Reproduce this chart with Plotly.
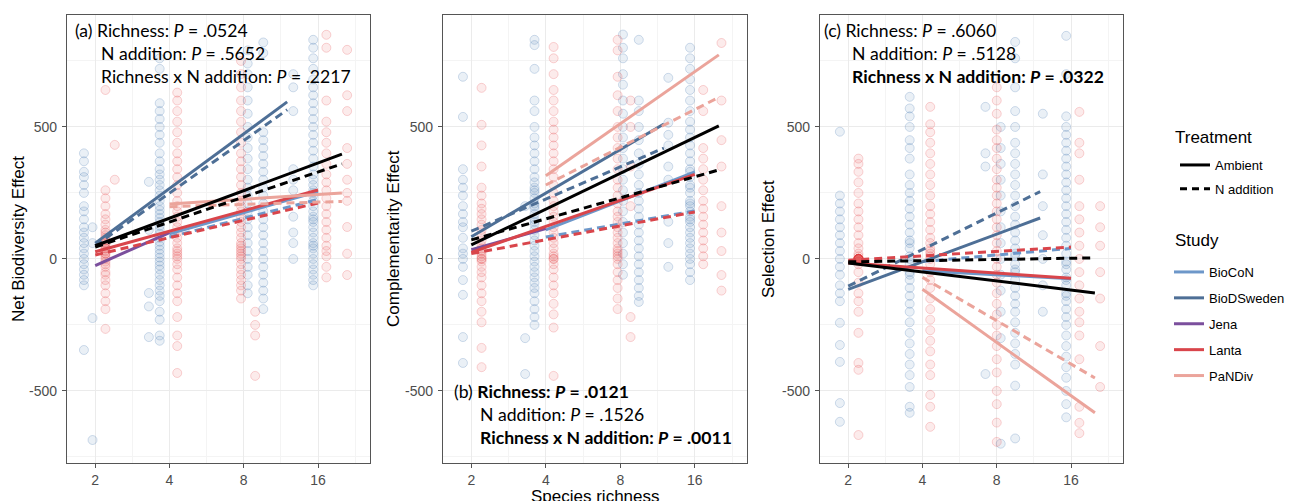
import plotly.graph_objects as go

# ---------------- data ----------------
STUDIES = ["BioCoN", "BioDSweden", "Jena", "Lanta", "PaNDiv"]
STUDY_COLORS = ["#6d97c9", "#4e6f96", "#7b4f9d", "#d9454b", "#eba49b"]
TREATMENTS = ["Ambient", "N addition"]
X_TICKS = [2, 4, 8, 16]
X_TICK_TEXT = ["2", "4", "8", "16"]
X_MINOR = [1.414, 2.828, 5.657, 11.31, 22.63]
Y_TICKS = [-500, 0, 500]
Y_TICK_TEXT = ["-500", "0", "500"]
Y_MINOR = [-750, -250, 250, 750]
Y_LABELS = ["Net Biodiversity Effect", "Complementarity Effect", "Selection Effect"]
X_LABEL = "Species richness"

# --- panel (a) Net biodiversity effect: observations ---
NBE_BLUE_X = [1.8, 1.95, 3.3, 3.65, 8.3, 9.6, 12.7, 15.3]
NBE_BLUE_Y = [
    [400, 370, 330, 310, 280, 250, 200, 180, 150, 120, 100, 80, 60, 40, 20, 0, -20, -40, -60, -80, -100, -345],
    [-224, -686, 120, 60],
    [292, 110, -129, -180, -296],
    [760, 720, 590, 560, 530, 500, 470, 440, 400, 370, 340, 320, 300, 280, 260, 240, 220, 200, 185, 170, 155,
     140, 125, 110, 95, 80, 65, 50, 35, 20, 5, -10, -25, -40, -60, -80, -100, -120, -140, -160, -200, -230,
     -290, -310],
    [790, 740, 700, 650, 600, 550, 500, 460, 420, 380, 340, 300, 270, 240, 210, 180, 150, 120, 90, 60, 30, 0,
     -30, -60, -100, -130],
    [820, 780, 480, 450, 420, 390, 360, 330, 300, 270, 240, 210, 180, 150, 120, 90, 60, 30, 0, -30, -60, -90,
     -120, -150, -190],
    [700, 650, 560, 340, 300, 260, 160, 100, 60, 0],
    [830, 800, 760, 720, 680, 650, 620, 590, 560, 530, 500, 470, 440, 410, 380, 350, 320, 300, 280, 260, 240,
     220, 200, 180, 160, 140, 120, 100, 80, 60, 40, 20, 0, -20, -40, -60, -80, -100, 250, 150, 50],
]
NBE_RED_X = [2.2, 2.4, 4.3, 7.8, 8.9, 17.3, 21.0]
NBE_RED_Y = [
    [640, 260, 230, 200, 170, 150, 130, 110, 100, 90, 80, 70, 60, 50, 40, 30, 20, 10, 0, -10, -20, -30, -50,
     -60, -80, -100, -130, -160, -190, -265, 60, 40, 20],
    [432, 300],
    [630, 600, 560, 520, 480, 440, 400, 370, 340, 310, 280, 250, 220, 200, 180, 160, 140, 120, 100, 80, 60, 40,
     20, 0, -20, -40, -70, -100, -130, -160, -220, -290, -330, -432, 30, 10],
    [750, 700, 650, 600, 560, 520, 480, 440, 400, 370, 340, 310, 280, 250, 220, 200, 180, 160, 140, 120, 100, 80,
     60, 40, 20, 0, -20, -40, -60, -80, -100, -120, -150, 50, 30, 10],
    [-200, -250, -290, -443],
    [849, 800, 600, 520, 480, 440, 400, 360, 320, 290, 260, 230, 200, 170, 140, 110, 80, 50, 30, 10, -30, -70],
    [792, 620, 560, 420, 360, 300, 250, 220, 121, 20, -61],
]

# --- panel (b) Complementarity effect: observations ---
CE_BLUE_X = [1.85, 3.3, 3.6, 8.2, 9.5, 12.5, 15.3]
CE_BLUE_Y = [
    [690, 538, 340, 300, 270, 240, 200, 170, 140, 120, 80, 40, 20, 0, -30, -80, -136, -296, -394],
    [-300, -436, 200],
    [830, 810, 720, 600, 560, 500, 460, 430, 400, 370, 340, 310, 290, 270, 250, 230, 210, 190, 170, 150, 130,
     110, 90, 70, 50, 30, 10, -10, -30, -50, -70, -90, -110, -130, -160, -190, -220, -250, 260, 200, 140],
    [850, 800, 760, 700, 660, 600, 550, 500, 460, 420, 380, 340, 300, 260, 220, 180, 140, 100, 60, 20, -20, -60],
    [830, 600, 560, 500, 450, 400, 360, 320, 280, 250, 220, 190, 160, 130, 100, 70, 40, 10, -20, -50, -80, -110,
     -140, -163],
    [686, 516, 470, 430, 350, 300, 141, 60, -30],
    [800, 760, 720, 680, 640, 600, 560, 520, 490, 460, 430, 400, 370, 340, 310, 280, 250, 220, 200, 180, 160, 140,
     120, 100, 80, 60, 40, 20, 0, -20, -50, -80, 330, 270, 210, 150],
]
CE_RED_X = [2.2, 4.3, 7.8, 8.8, 17.3, 20.5]
CE_RED_Y = [
    [648, 508, 430, 350, 270, 240, 210, 190, 170, 150, 130, 110, 90, 70, 50, 30, 20, 10, 0, -10, -30, -50, -70,
     -100, -130, -160, -200, -240, -337, -410, 40, 0],
    [803, 760, 700, 640, 600, 560, 520, 490, 460, 430, 400, 370, 340, 310, 280, 250, 220, 200, 180, 160, 140, 120,
     100, 80, 60, 40, 20, 0, -20, -40, -70, -100, -130, -170, -210, -260, -443, 0, 10],
    [830, 790, 690, 620, 560, 500, 460, 420, 380, 340, 300, 270, 240, 210, 180, 160, 140, 120, 100, 80, 60, 40,
     20, 0, -20, -50, -80, -110, -150, -190, 30, 10],
    [600, 500, 350, 200, -220, -296],
    [640, 560, 420, 380, 340, 300, 260, 220, 190, 160, 130, 100, 70, 40, 10, -20],
    [818, 600, 450, 350, 200, 100, 30, -61, -120],
]

# --- panel (c) Selection effect: observations ---
SE_BLUE_X = [1.85, 3.55, 7.2, 8.3, 9.5, 12.3, 15.3]
SE_BLUE_Y = [
    [482, 240, 210, 180, 150, 120, 90, 60, 30, 0, -30, -60, -100, -130, -160, -242, -326, -390, -546, -617],
    [614, 570, 540, 500, 450, 420, 380, 320, 280, 250, 220, 190, 160, 130, 100, 70, 40, 10, -20, -50, -80, -110,
     -140, -170, -200, -240, -280, -320, -360, -400, -440, -485, -560, -583, 60, 0, -60],
    [576, 400, 350, -436],
    [500, 420, 360, 300, 240, 180, 120, 60, 0, -60, -120, -200, -300, -700],
    [822, 760, 650, 560, 500, 440, 400, 360, 320, 280, 240, 200, 160, 130, 100, 70, 40, 10, -20, -50, -80, -110,
     -140, -170, -200, -240, -280, -320, -360, -400, -480, -680, 20, -40],
    [550, 320, 200, 90, 0, -100, -200],
    [845, 700, 540, 500, 470, 440, 410, 380, 350, 320, 290, 260, 230, 200, 170, 140, 110, 80, 50, 20, -10, -40,
     -70, -100, -130, -160, -190, -220, -250, -290, -330, -370, -410, -450, -500, -550, -600, -20, -80, -140],
]
SE_RED_X = [2.2, 4.3, 8.0, 17.3, 21.0]
SE_RED_Y = [
    [380, 360, 330, 290, 250, 210, 180, 150, 120, 90, 60, 40, 20, 10, 0, 0, 0, 0, 0, 0, 0, 0, 0, 0, 0, 0,
     -10, -20, -50, -90, -130, -160, -200, -280, -394, -420, -667],
    [576, 510, 480, 440, 400, 360, 320, 280, 240, 200, 170, 140, 110, 80, 60, 40, 20, 0, -20, -50, -80, -110,
     -150, -190, -230, -270, -310, -350, -400, -440, -515, -560, -636, 30, 10],
    [650, 600, 550, 490, 450, 420, 380, 340, 300, 270, 240, 210, 180, 150, 120, 90, 60, 30, 0, -30, -60, -90,
     -130, -170, -210, -250, -290, -330, -380, -430, -500, -550, -620, -693],
    [557, 440, 400, 300, 200, 150, 100, 50, 0, -50, -100, -150, -200, -240, -290, -380, -560, -621, -660],
    [200, 120, 50, -50, -150, -330, -485],
]

# --- fitted lines: (study, treatment, x_start, x_end, y_start, y_end) ---
NBE_FITS = [
    ("BioCoN", "Ambient", 4, 16, 95, 255), ("BioCoN", "N addition", 4, 16, 83, 225),
    ("BioDSweden", "Ambient", 2, 12, 60, 595), ("BioDSweden", "N addition", 2, 12, 50, 565),
    ("Jena", "Ambient", 2, 4, -25, 100),
    ("Lanta", "Ambient", 2, 16, 27, 261), ("Lanta", "N addition", 2, 16, 15, 212),
    ("PaNDiv", "Ambient", 4, 20, 208, 250), ("PaNDiv", "N addition", 4, 20, 198, 218),
    ("Overall", "Ambient", 2, 20, 50, 397), ("Overall", "N addition", 2, 20, 45, 360),
]
CE_FITS = [
    ("BioCoN", "Ambient", 4, 16, 110, 330), ("BioCoN", "N addition", 4, 16, 83, 182),
    ("BioDSweden", "Ambient", 2, 12, 84, 511), ("BioDSweden", "N addition", 2, 12, 105, 420),
    ("Jena", "Ambient", 2, 4, 35, 115),
    ("Lanta", "Ambient", 2, 16, 25, 320), ("Lanta", "N addition", 2, 16, 20, 178),
    ("PaNDiv", "Ambient", 4, 20, 315, 773), ("PaNDiv", "N addition", 4, 20, 280, 612),
    ("Overall", "Ambient", 2, 20, 53, 504), ("Overall", "N addition", 2, 20, 72, 337),
]
SE_FITS = [
    ("BioCoN", "Ambient", 4, 16, -45, -75), ("BioCoN", "N addition", 4, 16, -10, 40),
    ("BioDSweden", "Ambient", 2, 12, -115, 155), ("BioDSweden", "N addition", 2, 12, -103, 255),
    ("Lanta", "Ambient", 2, 16, -15, -73), ("Lanta", "N addition", 2, 16, -5, 45),
    ("PaNDiv", "Ambient", 4, 20, -115, -583), ("PaNDiv", "N addition", 4, 20, -70, -451),
    ("Overall", "Ambient", 2, 20, -15, -129), ("Overall", "N addition", 2, 20, -11, 4),
]

NBE_STATS = ["(a) Richness: <i>P</i> = .0524", "N addition: <i>P</i> = .5652",
             "Richness x N addition: <i>P</i> = .2217"]
CE_STATS = ["(b) <b>Richness: <i>P</i> = .0121</b>", "N addition: <i>P</i> = .1526",
            "<b>Richness x N addition: <i>P</i> = .0011</b>"]
SE_STATS = ["(c) Richness: <i>P</i> = .6060", "N addition: <i>P</i> = .5128",
            "<b>Richness x N addition: <i>P</i> = .0322</b>"]

# ---------------- layout geometry ----------------
W, H = 1298, 501
ML, MR, MT, MB = 67, 175, 15, 38
PW, PH = W - ML - MR, H - MT - MB
PANEL_PX = [(67, 370), (443, 747), (820, 1123)]


def px(xp):
    return (xp - ML) / PW


def py(yp):
    return 1 - (yp - MT) / PH


BLUE_FILL, BLUE_EDGE = "rgba(67,115,176,0.11)", "rgba(67,115,176,0.24)"
RED_FILL, RED_EDGE = "rgba(226,56,61,0.10)", "rgba(226,56,61,0.21)"
FONT_TXT = "Lato, 'Open Sans', sans-serif"
FONT_AX = "'Liberation Sans', Arial, sans-serif"

fig = go.Figure()

panels = [
    (NBE_BLUE_X, NBE_BLUE_Y, NBE_RED_X, NBE_RED_Y, NBE_FITS),
    (CE_BLUE_X, CE_BLUE_Y, CE_RED_X, CE_RED_Y, CE_FITS),
    (SE_BLUE_X, SE_BLUE_Y, SE_RED_X, SE_RED_Y, SE_FITS),
]
color_of = dict(zip(STUDIES, STUDY_COLORS))
color_of["Overall"] = "#000000"

for i, (bx, by, rx, ry, fits) in enumerate(panels):
    xa = "x" if i == 0 else f"x{i+1}"
    ya = "y" if i == 0 else f"y{i+1}"
    for xs, ys, fc, ec in ((bx, by, BLUE_FILL, BLUE_EDGE), (rx, ry, RED_FILL, RED_EDGE)):
        xx, yy = [], []
        for xv, yl in zip(xs, ys):
            xx += [xv] * len(yl)
            yy += yl
        fig.add_trace(go.Scatter(
            x=xx, y=yy, mode="markers", xaxis=xa, yaxis=ya, showlegend=False, hoverinfo="skip",
            marker=dict(size=9, color=fc, line=dict(width=1, color=ec))))
    for st in STUDIES + ["Overall"]:
        for (s, tr, x0, x1, y0, y1) in fits:
            if s != st:
                continue
            fig.add_trace(go.Scatter(
                x=[x0, x1], y=[y0, y1], mode="lines", xaxis=xa, yaxis=ya, showlegend=False,
                hoverinfo="skip",
                line=dict(color=color_of[s], width=3,
                          dash="solid" if tr == "Ambient" else "8px,5px")))

# legend entries
for tr in TREATMENTS:
    fig.add_trace(go.Scatter(
        x=[None], y=[None], mode="lines", name=tr, legend="legend", legendgroup=tr,
        line=dict(color="black", width=3, dash="solid" if tr == "Ambient" else "7px,5px")))
for st, col in zip(STUDIES, STUDY_COLORS):
    fig.add_trace(go.Scatter(
        x=[None], y=[None], mode="lines", name=st, legend="legend2", legendgroup=st,
        line=dict(color=col, width=3)))

ax_common = dict(showline=True, mirror=True, linecolor="#555555", linewidth=1.2,
                 gridcolor="#ebebeb", gridwidth=1, zeroline=False, automargin=False,
                 ticks="outside", ticklen=4, tickcolor="#555555",
                 tickfont=dict(family=FONT_AX, size=14, color="#4d4d4d"))
layout_axes = {}
for i, (l, r) in enumerate(PANEL_PX):
    sx = "xaxis" if i == 0 else f"xaxis{i+1}"
    sy = "yaxis" if i == 0 else f"yaxis{i+1}"
    layout_axes[sx] = dict(ax_common, type="log", domain=[px(l), px(r)],
                           range=[0.1866, 1.4149], tickvals=X_TICKS, ticktext=X_TICK_TEXT,
                           ticklabelstandoff=0,
                           anchor="y" if i == 0 else f"y{i+1}",
                           minor=dict(tickvals=X_MINOR, showgrid=True, gridcolor="#f4f4f4", ticks=""))
    layout_axes[sy] = dict(ax_common, range=[-773, 924], tickvals=Y_TICKS, ticktext=Y_TICK_TEXT,
                           ticklabelstandoff=2,
                           anchor="x" if i == 0 else f"x{i+1}",
                           minor=dict(tickvals=Y_MINOR, showgrid=True, gridcolor="#f4f4f4", ticks=""))

annotations = []
stat_pos = [
    [(73, 31), (99, 53), (99, 76)],
    [(452, 391), (478, 414), (478, 437)],
    [(822, 31), (850, 53), (850, 76)],
]
for stats, pos in zip([NBE_STATS, CE_STATS, SE_STATS], stat_pos):
    for txt, (xp, yp) in zip(stats, pos):
        annotations.append(dict(text=txt, x=px(xp), y=py(yp), xref="paper", yref="paper",
                                xanchor="left", yanchor="middle", showarrow=False,
                                font=dict(family=FONT_TXT, size=17.6, color="black")))
for lab, xp in zip(Y_LABELS, [18, 393, 768]):
    annotations.append(dict(text=lab, x=px(xp), y=py(239), xref="paper", yref="paper",
                            xanchor="center", yanchor="middle", textangle=-90, showarrow=False,
                            font=dict(family=FONT_AX, size=17, color="black")))
annotations.append(dict(text=X_LABEL, x=px(595), y=py(485), xref="paper", yref="paper",
                        xanchor="center", yanchor="top", showarrow=False,
                        font=dict(family=FONT_AX, size=17, color="black")))
# legend titles
for lab, yp in (("Treatment", 137), ("Study", 240)):
    annotations.append(dict(text=lab, x=px(1173), y=py(yp), xref="paper", yref="paper",
                            xanchor="left", yanchor="middle", showarrow=False,
                            font=dict(family=FONT_AX, size=17, color="black")))

fig.update_layout(
    width=W, height=H, margin=dict(l=ML, r=MR, t=MT, b=MB, autoexpand=False),
    paper_bgcolor="white", plot_bgcolor="white",
    annotations=annotations,
    legend=dict(x=1175 / W, y=1 - 150 / H, xref="container", yref="container",
                xanchor="left", yanchor="top", tracegroupgap=4, traceorder="grouped",
                font=dict(family=FONT_AX, size=13, color="black"), bgcolor="rgba(0,0,0,0)"),
    legend2=dict(x=1169 / W, y=1 - 257 / H, xref="container", yref="container",
                 xanchor="left", yanchor="top", tracegroupgap=6, traceorder="grouped",
                 font=dict(family=FONT_AX, size=13, color="black"), bgcolor="rgba(0,0,0,0)"),
    **layout_axes,
)

fig.write_html("out.html")
